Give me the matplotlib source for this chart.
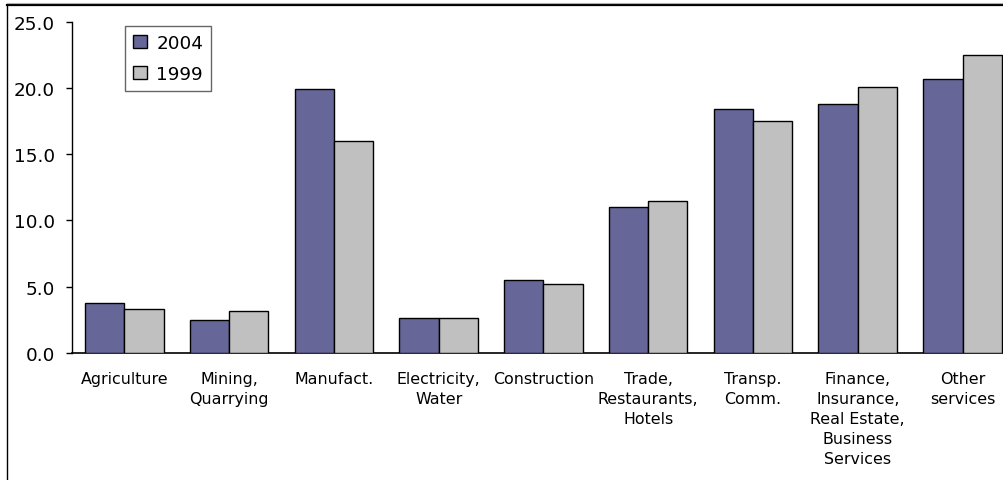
import matplotlib
matplotlib.use("Agg")
import matplotlib.pyplot as plt
import numpy as np
from matplotlib.lines import Line2D

categories = ["Agriculture", "Mining,\nQuarrying", "Manufact.", "Electricity,\nWater",
              "Construction", "Trade,\nRestaurants,\nHotels", "Transp.\nComm.",
              "Finance,\nInsurance,\nReal Estate,\nBusiness\nServices", "Other\nservices"]
values_2004 = [3.8, 2.5, 19.9, 2.65, 5.5, 11.0, 18.4, 18.8, 20.7]
values_1999 = [3.3, 3.15, 16.0, 2.65, 5.2, 11.5, 17.5, 20.05, 22.5]
yticks = [0, 5, 10, 15, 20, 25]

plt.rcParams['font.family'] = ['DejaVu Sans']

W, H = 1004, 481
fig = plt.figure(figsize=(W / 100, H / 100), dpi=100)
ax = fig.add_axes([71.9 / W, 127 / H, 943 / W, (354 - 22.7) / H])

x = np.arange(len(categories))
bw = 0.375
ax.bar(x - bw / 2, values_2004, bw, color="#666699", edgecolor="black", linewidth=1, label="2004", zorder=3)
ax.bar(x + bw / 2, values_1999, bw, color="#C0C0C0", edgecolor="black", linewidth=1, label="1999", zorder=3)

ax.set_xlim(-0.5, len(categories) - 0.5)
ax.set_ylim(0, 25)
ax.set_yticks(yticks)
ax.set_yticklabels([f"{v:.1f}" for v in yticks], fontsize=13.2)
ax.tick_params(axis="y", direction="out", length=4, width=1, pad=8)
ax.set_xticks(x)
ax.set_xticklabels(categories, fontsize=11.4, linespacing=1.42, va="top")
ax.tick_params(axis="x", length=0, pad=13)

for s in ["top", "right"]:
    ax.spines[s].set_visible(False)
ax.spines["left"].set_linewidth(1)
ax.spines["bottom"].set_linewidth(1.2)

leg = ax.legend(loc="upper left", bbox_to_anchor=(125 / W, 1 - 26.7 / H), bbox_transform=fig.transFigure,
                fontsize=13.2, frameon=True, fancybox=False, handlelength=0.75, handleheight=0.75,
                handletextpad=0.5, borderpad=0.45, labelspacing=0.7, borderaxespad=0)
leg.get_frame().set_edgecolor("#404040")
leg.get_frame().set_linewidth(1)

# outer frame (cropped figure border)
fig.add_artist(Line2D([7.5 / W, 7.5 / W], [0, 1 - 5.5 / H], transform=fig.transFigure, color="black", lw=1))
fig.add_artist(Line2D([7 / W, 1], [1 - 5.5 / H, 1 - 5.5 / H], transform=fig.transFigure, color="black", lw=1.6))
fig.add_artist(Line2D([7 / W, 1], [1 - 4 / H, 1 - 4 / H], transform=fig.transFigure, color="#B0B0B0", lw=0.8))

fig.savefig("out.png", dpi=100)
